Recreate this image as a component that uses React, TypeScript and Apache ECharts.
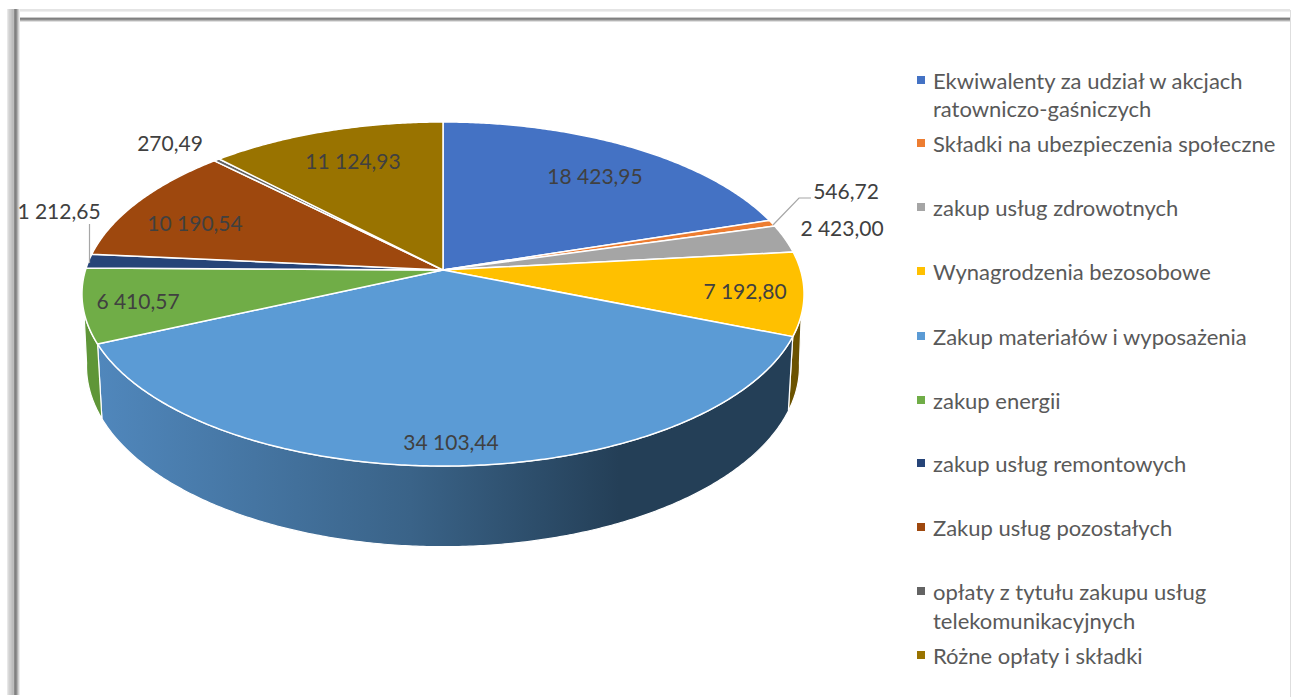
import React, { useEffect, useRef } from "react";
import * as echarts from "echarts";

const categories = [
  "Ekwiwalenty za udział w akcjach ratowniczo-gaśniczych",
  "Składki na ubezpieczenia społeczne",
  "zakup usług zdrowotnych",
  "Wynagrodzenia bezosobowe",
  "Zakup materiałów i wyposażenia",
  "zakup energii",
  "zakup usług remontowych",
  "Zakup usług pozostałych",
  "opłaty z tytułu zakupu usług telekomunikacyjnych",
  "Różne opłaty i składki",
];
const values = [18423.95, 546.72, 2423.0, 7192.8, 34103.44, 6410.57, 1212.65, 10190.54, 270.49, 11124.93];
const valueLabels = ["18 423,95", "546,72", "2 423,00", "7 192,80", "34 103,44", "6 410,57", "1 212,65", "10 190,54", "270,49", "11 124,93"];
const colors = ["#4472C4", "#ED7D31", "#A5A5A5", "#FFC000", "#5B9BD5", "#70AD47", "#264478", "#9E480E", "#636363", "#997300"];

const labelCentres = [[595, 175], [846, 190], [842, 227], [745, 290], [451, 441], [138, 300], [59, 210], [195, 222], [170, 142], [353, 160]];
const legendFirstLines = ["Ekwiwalenty za udział w akcjach", "Składki na ubezpieczenia społeczne", "zakup usług zdrowotnych", "Wynagrodzenia bezosobowe", "Zakup materiałów i wyposażenia", "zakup energii", "zakup usług remontowych", "Zakup usług pozostałych", "opłaty z tytułu zakupu usług", "Różne opłaty i składki"];
const legendCentres = [80, 143, 207, 271, 336, 400, 463, 527, 591, 655];
const legendSecondLines = [{ text: "ratowniczo-gaśniczych", y: 108 }, { text: "telekomunikacyjnych", y: 620 }];

const FONT = "Lato, Carlito, sans-serif";
const total = values.reduce((a, b) => a + b, 0);

const topDisc = { cx: 443, cy: 270, a: 168.7, b: 357.5, k: 0.1395 };
const bottomDisc = { cx: 443, cy: 341, a: 177, b: 353, k: 0.1395 };

function project(d: typeof topDisc, deg: number): number[] {
  const t = (deg * Math.PI) / 180;
  const u = Math.sin(t);
  const v = -Math.cos(t);
  const w = 1 - d.k * v;
  return [d.cx + (d.b * u) / w, d.cy + (d.a * v) / w];
}
function arc(d: typeof topDisc, from: number, to: number): number[][] {
  const n = Math.max(2, Math.ceil(Math.abs(to - from) * 2));
  const pts: number[][] = [];
  for (let i = 0; i <= n; i++) pts.push(project(d, from + ((to - from) * i) / n));
  return pts;
}

// Which part of each slice's rim is visible at the front of the cake.
const wallFill: Record<number, any> = {
  3: "#6B5200",
  4: new echarts.graphic.LinearGradient(0, 0, 1, 0, [
    { offset: 0, color: "#5087BC" },
    { offset: 0.45, color: "#3A6388" },
    { offset: 0.75, color: "#243F57" },
    { offset: 1, color: "#243F57" },
  ]),
  5: "#5F9638",
};
const wallTopLimit: Record<number, number> = { 3: 105, 5: 256 };
const wallBottomLimit: Record<number, number> = { 3: 97, 5: 263 };

function renderSlice(index: number) {
  return (_params: any, api: any) => {
    const before = values.slice(0, index).reduce((a, b) => a + b, 0);
    const start = (before / total) * 360;
    const end = ((before + api.value(0)) / total) * 360;
    const children: any[] = [];

    if (wallFill[index]) {
      const topFrom = index === 3 ? wallTopLimit[3] : start;
      const topTo = index === 5 ? wallTopLimit[5] : end;
      const botFrom = index === 3 ? wallBottomLimit[3] : start;
      const botTo = index === 5 ? wallBottomLimit[5] : end;
      const pts = arc(topDisc, topFrom, topTo).concat(arc(bottomDisc, botFrom, botTo).reverse());
      children.push({
        type: "polygon",
        z2: 1,
        shape: { points: pts },
        style: { fill: wallFill[index], stroke: "#ffffff", lineWidth: 1.2 },
      });
    }

    children.push({
      type: "polygon",
      z2: 5,
      shape: { points: [[topDisc.cx, topDisc.cy]].concat(arc(topDisc, start, end)) },
      style: { fill: colors[index], stroke: "#ffffff", lineWidth: 1.5, lineJoin: "round" },
    });

    children.push({
      type: "text",
      z2: 10,
      style: {
        text: valueLabels[index],
        x: labelCentres[index][0],
        y: labelCentres[index][1],
        textAlign: "center",
        textVerticalAlign: "middle",
        fill: "#404040",
        font: `21px ${FONT}`,
      },
    });

    if (index === 1) {
      children.push({
        type: "polyline",
        z2: 8,
        shape: { points: [[773, 225], [799, 198], [811, 198]] },
        style: { stroke: "#A6A6A6", lineWidth: 1.2, fill: "none" },
      });
    }
    if (index === 6) {
      children.push({
        type: "line",
        z2: 8,
        shape: { x1: 89.5, y1: 224, x2: 89.5, y2: 263 },
        style: { stroke: "#A6A6A6", lineWidth: 1.2 },
      });
    }
    return { type: "group", children };
  };
}

function frame() {
  const bands: any[] = [];
  const hStops = [[9, "#E4E4E4"], [10, "#E4E4E4"], [11, "#EFEFEF"], [17, "#C8C8C8"], [18, "#808080"], [19, "#8E8E8E"], [20, "#B4B4B4"], [21, "#E0E0E0"]] as [number, string][];
  hStops.forEach(([y, c]) => bands.push({ type: "rect", shape: { x: 8, y, width: 1282, height: 1 }, style: { fill: c } }));
  const vStops = [[7, "#E8E8E8"], [8, "#DADADA"], [9, "#D0D0D0"], [10, "#CCCCCC"], [11, "#C4C4C4"], [12, "#BCBCBC"], [13, "#BDBDBD"], [14, "#8C8C8C"], [15, "#808080"], [16, "#8E8E8E"], [17, "#B0B0B0"], [18, "#D0D0D0"], [19, "#ECECEC"]] as [number, string][];
  vStops.forEach(([x, c]) => bands.push({ type: "rect", shape: { x, y: 9, width: 1, height: 686 }, style: { fill: c } }));
  bands.push({ type: "rect", shape: { x: 1290, y: 10, width: 1, height: 687 }, style: { fill: "#DEDEDE" } });
  return bands;
}

export default function App() {
  const ref = useRef<HTMLDivElement>(null);
  useEffect(() => {
    document.body.style.margin = "0";
    const chart = echarts.init(ref.current!, undefined, { renderer: "svg" });
    chart.setOption({
      animation: false,
      backgroundColor: "#ffffff",
      legend: categories.map((name, i) => ({
        data: [name],
        show: true,
        orient: "vertical",
        left: 917,
        top: legendCentres[i] - 13,
        padding: 0,
        icon: "rect",
        itemWidth: 8,
        itemHeight: 8,
        selectedMode: false,
        formatter: () => legendFirstLines[i],
        textStyle: { fontFamily: FONT, fontSize: 22, color: "#595959", lineHeight: 24, padding: [0, 0, 2, 3] },
      })),
      graphic: [
        ...frame(),
        ...legendSecondLines.map((l) => ({
          type: "text",
          style: { text: l.text, x: 933, y: l.y, textVerticalAlign: "middle", fill: "#595959", font: `22px ${FONT}` },
        })),
      ],
      series: categories.map((name, i) => ({
        type: "custom",
        name,
        coordinateSystem: "none",
        silent: true,
        itemStyle: { color: colors[i] },
        data: [{ name, value: values[i] }],
        renderItem: renderSlice(i),
      })),
    });
    return () => chart.dispose();
  }, []);
  return <div ref={ref} style={{ width: 1292, height: 697 }} />;
}
